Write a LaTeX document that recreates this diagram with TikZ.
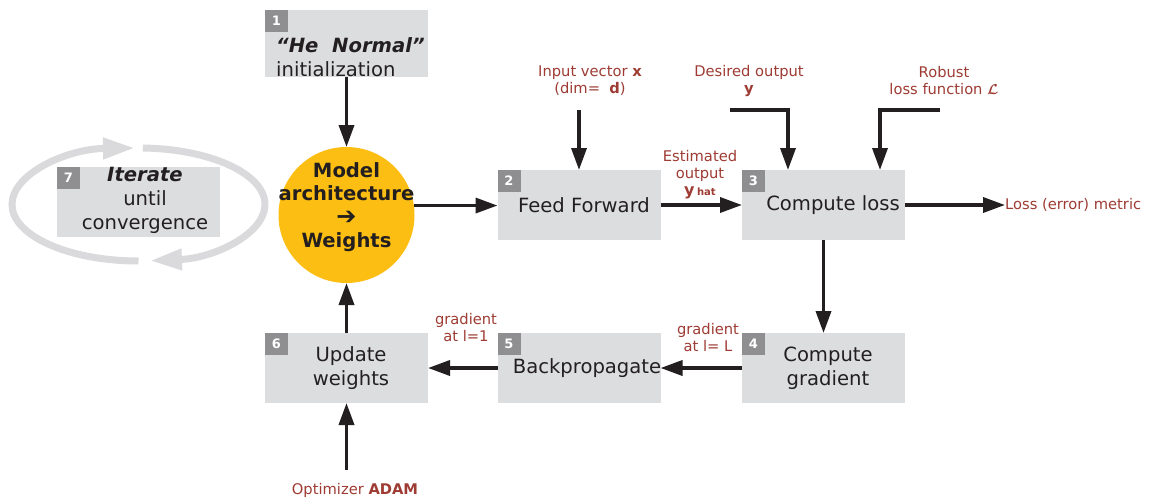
\documentclass[tikz,border=0pt]{standalone}
\usepackage{fontspec}
\setmainfont{DejaVu Sans}
\usepackage{bm}
\usetikzlibrary{arrows.meta,calc}

\definecolor{ink}{RGB}{35,31,32}
\definecolor{boxgray}{RGB}{220,221,223}
\definecolor{badgegray}{RGB}{143,143,145}
\definecolor{loopgray}{RGB}{218,218,220}
\definecolor{lblred}{RGB}{158,60,52}
\definecolor{archyellow}{RGB}{252,190,18}

\tikzset{
  box/.style={fill=boxgray, minimum width=163pt, minimum height=70pt, inner sep=0pt, outer sep=0pt},
  badge/.style={fill=badgegray, minimum width=23pt, minimum height=22pt, inner sep=0pt, outer sep=0pt,
    text=white, font=\fontsize{13}{13}\selectfont\bfseries, anchor=north west},
  boxtext/.style={text=ink, font=\fontsize{19.6}{24}\selectfont, align=center, inner sep=0pt},
  lbl/.style={text=lblred, font=\fontsize{14.7}{17}\selectfont, align=center, inner sep=0pt},
  flow/.style={draw=ink, line width=3.5pt, -{Triangle[length=22pt,width=15pt]}},
  cycle/.style={draw=loopgray, line width=7pt, -{Triangle[length=32pt,width=20pt]}},
}

\begin{document}
\begin{tikzpicture}[x=1pt,y=-1pt]
  \fill[white] (0,0) rectangle (1151,503);
  \useasboundingbox (0,0) rectangle (1151,503);

  % iteration loop around step 7
  \draw[cycle] (138.5,261) arc[start angle=90, end angle=268.4, x radius=126.5, y radius=56.5];
  \draw[cycle] (142.9,148) arc[start angle=272, end angle=444.8, x radius=126.5, y radius=56.5];

  % step boxes
  \node[box] (b1) at (346.5,43.5) [minimum height=67pt] {};
  \node[box] (b2) at (579,205) {};
  \node[box] (b3) at (823.5,205) {};
  \node[box] (b4) at (823.5,368) {};
  \node[box] (b5) at (579,368) {};
  \node[box] (b6) at (346.5,368) {};
  \node[box] (b7) at (138.5,202) {};

  % step numbers
  \node[badge] (n1) at (b1.north west) {1};
  \node[badge] (n2) at (b2.north west) {2};
  \node[badge] (n3) at (b3.north west) {3};
  \node[badge] (n4) at (b4.north west) {4};
  \node[badge] (n5) at (b5.north west) {5};
  \node[badge] (n6) at (b6.north west) {6};
  \node[badge] (n7) at (b7.north west) {7};

  % box texts
  \node[boxtext, align=left, anchor=west] (t1) at (276,57)
    {\textbf{\textit{“He~~Normal”}}\\initialization};
  \node[boxtext] (t2) at (584,205) {Feed Forward};
  \node[boxtext] (t3) at (833,205) {Compute loss};
  \node[boxtext] (t4) at (828,368) {Compute\\gradient};
  \node[boxtext] (t5) at (587,368) {Backpropagate};
  \node[boxtext] (t6) at (351,368) {Update\\weights};
  \node[boxtext] (t7) at (145,200) {\textbf{\textit{Iterate}}\\until\\convergence};

  % model architecture
  \node[circle, fill=archyellow, minimum size=136pt, inner sep=0pt, outer sep=0pt] (arch) at (346.5,215) {};
  \node[boxtext, font=\fontsize{19.6}{23.5}\selectfont\bfseries] (tarch) at (346.5,207)
    {Model\\architecture\\{\fontsize{24}{23.5}\selectfont ➔}\\Weights};

  % input labels
  \node[lbl] (xlbl) at (590,81) {Input vector \textbf{x}\\(dim=\ \ \textbf{d})};
  \node[lbl] (ylbl) at (749,81) {Desired output\\\textbf{y}};
  \node[lbl] (llbl) at (944,81) {Robust\\loss function $\bm{\mathcal{L}}$};
  \node[lbl] (estlbl) at (700,175)
    {Estimated\\output\\{\fontsize{16}{16}\selectfont\bfseries y}\,{\fontsize{10}{10}\selectfont\bfseries hat}};
  \node[lbl, anchor=west] (lossm) at (1005,205) {Loss (error) metric};
  \node[lbl] (g1) at (466,328) {gradient\\at l=1};
  \node[lbl] (gL) at (708,338) {gradient\\at l= L};
  \node[lbl] (optim) at (355,490) {Optimizer \textbf{ADAM}};

  % free ends of the input connectors
  \coordinate (xin) at (579,110);
  \coordinate (yin) at (730,110);
  \coordinate (lin) at (940,110);
  \coordinate (adam) at (346.5,470);
  \coordinate (ydrop) at ($(b3.north west)+(46,0)$);
  \coordinate (ldrop) at ($(b3.north west)+(138,0)$);

  % flow
  \draw[flow] (b1.south) -- (arch.north);
  \draw[flow] (arch.8.5) -- (arch.8.5 -| b2.west);
  \draw[flow] (xin) -- (b2.north);
  \draw[flow] (b2.east) -- (b3.west);
  \draw[flow] (yin) -| (ydrop);
  \draw[flow] (lin) -| (ldrop);
  \draw[flow] (b3.east) -- (lossm.west);
  \draw[flow] (b3.south) -- (b4.north);
  \draw[flow] (b4.west) -- (b5.east);
  \draw[flow] (b5.west) -- (b6.east);
  \draw[flow] (b6.north) -- (arch.south);
  \draw[flow] (adam) -- (b6.south);
\end{tikzpicture}
\end{document}
